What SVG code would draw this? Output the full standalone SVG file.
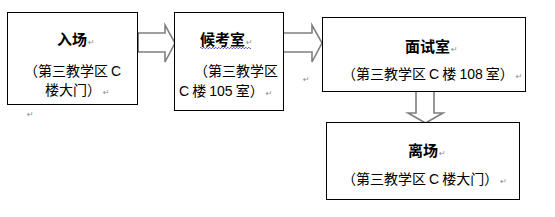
<svg xmlns="http://www.w3.org/2000/svg" width="555" height="217" viewBox="0 0 555 217">
  <style>
    .box { fill: #ffffff; stroke: #000000; stroke-width: 1; }
    .arrow { fill: #ffffff; stroke: #7f7f7f; stroke-width: 1.6; stroke-linejoin: miter; }
    .title { font-family: "Liberation Sans", "Noto Sans CJK SC", sans-serif; font-size: 15px; font-weight: bold; fill: #000000; }
    .sub { font-family: "Liberation Sans", "Noto Sans CJK SC", sans-serif; font-size: 14px; fill: #000000; word-spacing: -0.8px; }
    .pm { font-family: "DejaVu Sans", sans-serif; font-size: 8px; fill: #8c8c8c; font-weight: normal; word-spacing: 0; }
  </style>
  <rect width="555" height="217" fill="#ffffff"/>
  <g id="connectors">
    <path class="arrow" d="M137,33 H165 V25 L175,43 L165,62 V52 H137 Z"/>
    <line x1="137" y1="33" x2="137" y2="52" stroke="#000000" stroke-width="3"/>
    <path class="arrow" d="M283,33 H312 V25 L322,43 L312,62 V52 H283 Z"/>
    <path class="arrow" d="M416,91 V113 H408 L425.5,123 L443,113 H434 V91 Z"/>
  </g>
  <g id="node-entrance">
    <rect class="box" x="7.5" y="12.5" width="130" height="92"/>
    <text class="title" x="57" y="45">入场<tspan class="pm" dx="1">↵</tspan></text>
    <text class="sub" x="24" y="76">（第三教学区 C</text>
    <text class="sub" x="45" y="95">楼大门）<tspan class="pm" dx="2">↵</tspan></text>
  </g>
  <g id="node-waiting">
    <rect class="box" x="174.5" y="12.5" width="109" height="98"/>
    <text class="title" x="200" y="45">候考室<tspan class="pm" dx="1">↵</tspan></text>
    <path d="M200,48 q0.75,-1.5 1.5,0 t1.5,0 t1.5,0 t1.5,0 t1.5,0 t1.5,0 t1.5,0 t1.5,0 t1.5,0 t1.5,0 t1.5,0 t1.5,0 t1.5,0 t1.5,0 t1.5,0 t1.5,0 t1.5,0 t1.5,0 t1.5,0 t1.5,0 t1.5,0 t1.5,0 t1.5,0 t1.5,0 t1.5,0 t1.5,0 t1.5,0 t1.5,0 t1.5,0 t1.5,0 t1.5,0 t1.5,0 t1.5,0 t1.5,0" fill="none" stroke="#3b3bd6" stroke-width="0.9"/>
    <text class="sub" x="194" y="76">（第三教学区</text>
    <text class="sub" x="179" y="96">C 楼 105 室）<tspan class="pm" dx="2">↵</tspan></text>
  </g>
  <g id="node-interview">
    <rect class="box" x="322.5" y="17.5" width="203" height="74"/>
    <text class="title" x="405" y="52">面试室<tspan class="pm" dx="1">↵</tspan></text>
    <text class="sub" x="342" y="79">（第三教学区 C 楼 108 室）<tspan class="pm" dx="2">↵</tspan></text>
  </g>
  <g id="node-exit">
    <rect class="box" x="326.5" y="122.5" width="193" height="77"/>
    <text class="title" x="408" y="156">离场<tspan class="pm" dx="1">↵</tspan></text>
    <text class="sub" x="342" y="184">（第三教学区 C 楼大门）<tspan class="pm" dx="2">↵</tspan></text>
  </g>
  <text class="pm" x="27" y="117">↵</text>
  <text class="pm" x="303" y="82">↵</text>
</svg>
